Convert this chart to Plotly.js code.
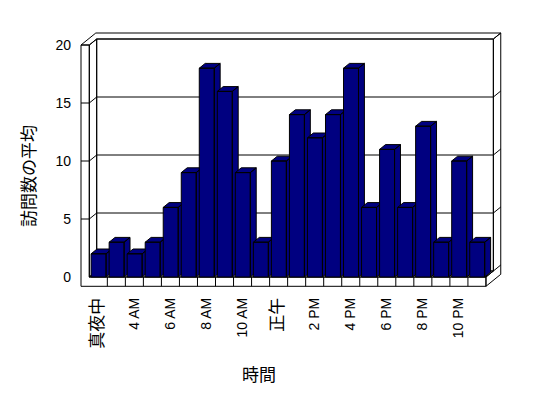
<!DOCTYPE html>
<html><head><meta charset="utf-8">
<script src="https://cdn.plot.ly/plotly-3.0.1.min.js"></script>
<style>html,body{margin:0;padding:0;background:#fff}</style>
</head><body><div id="chart" style="width:548px;height:398px"></div>
<script>
// ---- data ----
const categories = ['真夜中','1 AM','4 AM','5 AM','6 AM','7 AM','8 AM','9 AM','10 AM','11 AM','正午','1 PM','2 PM','3 PM','4 PM','5 PM','6 PM','7 PM','8 PM','9 PM','10 PM','11 PM'];
const visits = [2,3,2,3,6,9,18,16,9,3,10,14,12,14,18,6,11,6,13,3,10,3];
const yTicks = [0,5,10,15,20];
const xTitle = '時間';
const yTitle = '訪問数の平均';

// ---- geometry (pixel calibration of the 3D frame) ----
const W=548,H=398;
const L=72,R=510,T=25,B=294;
const PX0=89.3, PXU=18.03, PY0=277, PYU=11.6;
const xr=[(L-PX0)/PXU,(R-PX0)/PXU];
const yr=[(PY0-B)/PYU,(PY0-T)/PYU];
const OX=7.4/PXU, OY=6/PYU;
const N=categories.length;
const YMAX=yTicks[yTicks.length-1];
const WALL=8.3/PXU, FLOOR=9.3/PYU;
const BD=0.8, BX0=0.1, BX1=0.93;
const FONT="'Liberation Sans', 'Noto Sans CJK JP', sans-serif";

function P(p){return [p[0]+p[2]*OX, p[1]+p[2]*OY];}
const traces=[];
function polys(list, fill){
  const xs=[],ys=[];
  list.forEach(pts=>{
    pts.concat([pts[0]]).forEach(p=>{const q=P(p); xs.push(q[0]); ys.push(q[1]);});
    xs.push(null); ys.push(null);
  });
  traces.push({type:'scatter',mode:'lines',x:xs,y:ys,fill:'toself',fillcolor:fill,
    line:{color:'#000',width:1},hoverinfo:'skip',showlegend:false,connectgaps:false});
}
function segs(list){
  const xs=[],ys=[];
  list.forEach(s=>{s.forEach(p=>{const q=P(p); xs.push(q[0]); ys.push(q[1]);}); xs.push(null); ys.push(null);});
  traces.push({type:'scatter',mode:'lines',x:xs,y:ys,line:{color:'#000',width:1},
    hoverinfo:'skip',showlegend:false,connectgaps:false});
}

// walls
polys([
  [[0,0,1],[N,0,1],[N,YMAX,1],[0,YMAX,1]],
  [[0,0,0],[N,0,0],[N,0,1],[0,0,1]],
  [[0,0,0],[0,0,1],[0,YMAX,1],[0,YMAX,0]],
  [[-WALL,YMAX,0],[0,YMAX,0],[0,YMAX,1],[N,YMAX,1],[N,YMAX,2],[-WALL,YMAX,2]],
  [[N,0,0],[N,-FLOOR,0],[N,-FLOOR,2],[N,YMAX,2],[N,YMAX,1],[N,0,1]],
  [[-WALL,YMAX,0],[0,YMAX,0],[0,0,0],[N,0,0],[N,-FLOOR,0],[-WALL,-FLOOR,0]]
], '#ffffff');

// gridlines & ticks
const g=[];
yTicks.forEach(v=>{
  if(v>0 && v<YMAX){
    g.push([[0,v,1],[N,v,1]]);
    g.push([[0,v,0],[0,v,1]]);
    g.push([[-WALL,v,0],[0,v,0]]);
  }
  if(v<YMAX) g.push([[N,v,1],[N,v,2]]);
});
for(let i=1;i<N;i++) g.push([[i,0,0],[i,-FLOOR,0]]);
segs(g);

// bars, left to right
visits.forEach((h,i)=>{
  const x0=i+BX0, x1=i+BX1;
  polys([
    [[x1,0,0],[x1,0,BD],[x1,h,BD],[x1,h,0]],
    [[x0,h,0],[x1,h,0],[x1,h,BD],[x0,h,BD]],
    [[x0,0,0],[x1,0,0],[x1,h,0],[x0,h,0]]
  ], '#000080');
});

const tickvals=[], ticktext=[];
categories.forEach((c,i)=>{ if(i%2===0){ tickvals.push(i+0.5);
  ticktext.push(/[^\x00-\x7F]/.test(c)?'<span style="font-size:17px;color:#000000">'+c+'</span>':c);} });

const pw=R-L, ph=B-T;
const layout={
  width:W,height:H,margin:{l:L,r:W-R,t:T,b:H-B},
  paper_bgcolor:'#fff',plot_bgcolor:'rgba(0,0,0,0)',showlegend:false,
  font:{family:FONT,size:14,color:'#000'},
  xaxis:{range:xr,tickvals:tickvals,ticktext:ticktext,tickangle:-90,showgrid:false,zeroline:false,
    showline:false,ticks:'',tickfont:{family:FONT,size:14,color:'#000'},fixedrange:true},
  yaxis:{range:yr,tickvals:yTicks,showgrid:false,zeroline:false,showline:false,ticks:'',
    tickfont:{family:FONT,size:14,color:'#000'},fixedrange:true},
  annotations:[
    {text:xTitle,xref:'paper',yref:'paper',x:(259-L)/pw,y:(B-375)/ph,xanchor:'center',yanchor:'middle',
     showarrow:false,font:{family:FONT,size:17,color:'#000'}},
    {text:yTitle,xref:'paper',yref:'paper',x:(30-L)/pw,y:(B-176)/ph,xanchor:'center',yanchor:'middle',
     textangle:-90,showarrow:false,font:{family:FONT,size:17,color:'#000'}}
  ]
};
Plotly.newPlot('chart',traces,layout,{staticPlot:true,displayModeBar:false});
</script></body></html>
